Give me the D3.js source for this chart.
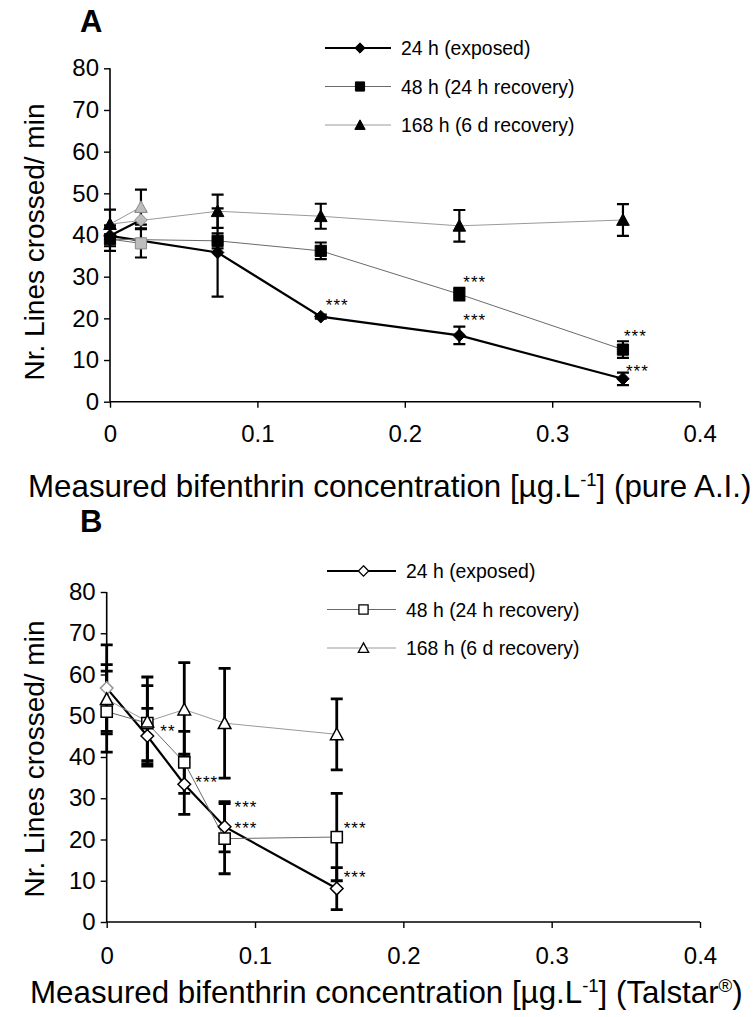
<!DOCTYPE html>
<html><head><meta charset="utf-8">
<script src="https://cdn.jsdelivr.net/npm/d3@7"></script>
<style>
body{margin:0;background:#fff}
svg{display:block;font-family:"Liberation Sans",Arial,Helvetica,sans-serif}
</style>
</head><body>
<svg id="chart" width="754" height="1017"></svg>
<script>
// ---- Panel A: pure active ingredient ----
const concA = [0, 0.073, 0.143, 0.237, 0.348];
const a24 = [39.8, 35.8, 20.4, 15.9, 5.5];
const a24err = [2.5, 10.6, 0.5, 2.1, 1.5];
const a48 = [39.0, 38.6, 36.2, 25.8, 12.5];
const a48err = [2.8, 1.8, 2.0, 1.5, 2.0];
const a168 = [42.6, 45.7, 44.5, 42.2, 43.6];
const a168err = [3.5, 4.0, 3.0, 3.8, 3.8];
const sigA24 = ["", "", "***", "***", "***"];
const sigA48 = ["", "", "", "***", "***"];
const sigA168 = ["", "", "", "", ""];
// solvent control group (grey markers)
const ctrlConcA = 0.021;
const ctrlA = [43.6, 38.0, 46.7];
const ctrlErrA = [2.0, 3.4, 4.2];

// ---- Panel B: Talstar formulation ----
const concB = [0, 0.0274, 0.0523, 0.0795, 0.1551];
const b24 = [56.7, 45.1, 33.4, 23.1, 8.1];
const b24err = [10.5, 6.7, 7.3, 6.1, 5.1];
const b48 = [51.0, 48.2, 38.7, 20.2, 20.6];
const b48err = [9.8, 9.1, 7.5, 8.5, 10.6];
const b168 = [54.0, 48.6, 51.5, 48.2, 45.5];
const b168err = [8.4, 10.8, 11.4, 13.3, 8.6];
const sigB24 = ["", "**", "***", "***", "***"];
const sigB48 = ["", "", "", "***", "***"];
const sigB168 = ["", "", "", "", ""];

const seriesNames = ["24 h (exposed)", "48 h (24 h recovery)", "168 h (6 d recovery)"];
const xTicks = [0, 0.1, 0.2, 0.3, 0.4];
const yTicks = [0, 10, 20, 30, 40, 50, 60, 70, 80];
const yLabel = "Nr. Lines crossed/ min";

const svg = d3.select("#chart");

// marker shapes
function markerPath(shape, r) {
  if (shape === "diamond") return `M0,${-r}L${r},0L0,${r}L${-r},0Z`;
  if (shape === "square") return `M${-r},${-r}H${r}V${r}H${-r}Z`;
  return `M0,${-r}L${r},${r * 0.85}L${-r},${r * 0.85}Z`;
}

const lineStyles = [
  {width: 2.2, color: "#000"},
  {width: 1, color: "#6a6a6a"},
  {width: 1, color: "#9a9a9a"}
];
const shapes = ["diamond", "square", "triangle"];
const sizes = {diamond: 6.3, square: 5.6, triangle: 6.3};

function drawPanel(cfg) {
  const g = svg.append("g");
  const x = d3.scaleLinear().domain([0, 0.4]).range([cfg.x0, cfg.x1]);
  const y = d3.scaleLinear().domain([0, 80]).range([cfg.y0, cfg.y1]);

  // axes
  const ax = g.append("g").attr("transform", `translate(0,${cfg.y0})`)
    .call(d3.axisBottom(x).tickValues(xTicks).tickSize(6).tickPadding(cfg.xTickPad)
      .tickFormat(d => d === 0 ? "0" : d3.format(".1f")(d)));
  const ay = g.append("g").attr("transform", `translate(${cfg.x0},0)`)
    .call(d3.axisLeft(y).tickValues(yTicks).tickSize(6).tickPadding(5));
  [ax, ay].forEach(a => {
    a.select(".domain").attr("stroke", "#000").attr("stroke-width", 1.6);
    a.selectAll(".tick line").attr("stroke", "#000").attr("stroke-width", 1.4);
    a.selectAll("text").attr("fill", "#000").attr("font-size", 24)
      .attr("font-family", "Liberation Sans, Arial, sans-serif");
  });
  ay.select(".domain").attr("d", `M0,${cfg.y0}V${cfg.y1}`);
  ax.select(".domain").attr("d", `M${cfg.x0},0H${cfg.x1}`);

  // y axis title
  g.append("text")
    .attr("transform", `translate(${cfg.yTitleX},${(cfg.y0 + cfg.y1) / 2 + cfg.yTitleShift}) rotate(-90)`)
    .attr("text-anchor", "middle").attr("font-size", 28).attr("fill", "#000")
    .text(yLabel);

  // panel letter
  g.append("text").attr("x", cfg.letterX).attr("y", cfg.letterY)
    .attr("font-size", 31).attr("font-weight", "bold").text(cfg.letter);

  // x axis title with superscripts
  const t = g.append("text").attr("x", cfg.xTitleX).attr("y", cfg.xTitleY)
    .attr("font-size", 31.3).attr("fill", "#000");
  t.append("tspan").text("Measured bifenthrin concentration [µg.L");
  t.append("tspan").attr("dy", -11).attr("font-size", 18.5).text("-1");
  t.append("tspan").attr("dy", 11).text("] (" + cfg.titleTail);
  if (cfg.registered) {
    t.append("tspan").attr("dy", -11).attr("font-size", 18.5).text("®");
    t.append("tspan").attr("dy", 11).text(")");
  } else {
    t.append("tspan").text(")");
  }

  const line = d3.line().x(d => x(d[0])).y(d => y(d[1]));

  // connecting lines
  cfg.series.forEach((s, k) => {
    const st = lineStyles[k];
    const pts = cfg.conc.map((c, i) => [c, s.values[i]]);
    g.append("path").attr("d", line(pts)).attr("fill", "none")
      .attr("stroke", st.color).attr("stroke-width", st.width);
    if (cfg.ctrl) {
      g.append("path").attr("d", line([[cfg.conc[0], s.values[0]], [cfg.ctrlConc, cfg.ctrl[k]]]))
        .attr("fill", "none").attr("stroke", st.color).attr("stroke-width", st.width);
    }
  });

  // error bars
  const capW = 6;
  function errBar(cx, v, e, w) {
    const px = x(cx), top = y(v + e), bot = y(v - e);
    g.append("path")
      .attr("d", `M${px},${top}V${bot}M${px - capW},${top}H${px + capW}M${px - capW},${bot}H${px + capW}`)
      .attr("stroke", "#000").attr("stroke-width", w).attr("fill", "none");
  }
  cfg.series.forEach((s, k) => {
    cfg.conc.forEach((c, i) => errBar(c, s.values[i], s.errors[i], cfg.errW));
    if (cfg.ctrl) errBar(cfg.ctrlConc, cfg.ctrl[k], cfg.ctrlErr[k], cfg.errW);
  });

  // markers
  cfg.series.forEach((s, k) => {
    const shape = shapes[k];
    cfg.conc.forEach((c, i) => {
      g.append("path").attr("d", markerPath(shape, sizes[shape]))
        .attr("transform", `translate(${x(c)},${y(s.values[i])})`)
        .attr("fill", cfg.open ? "#fff" : "#000")
        .attr("stroke", cfg.pointStroke(k, i)).attr("stroke-width", cfg.open ? 1.5 : 1);
    });
    if (cfg.ctrl) {
      g.append("path").attr("d", markerPath(shape, sizes[shape]))
        .attr("transform", `translate(${x(cfg.ctrlConc)},${y(cfg.ctrl[k])})`)
        .attr("fill", "#bdbdbd").attr("stroke", "#8a8a8a").attr("stroke-width", 1);
    }
  });

  // significance labels
  cfg.series.forEach((s, k) => {
    s.sig.forEach((lab, i) => {
      if (!lab) return;
      const off = cfg.sigOffset[k][i];
      g.append("text")
        .attr("x", x(cfg.conc[i]) + off[0])
        .attr("y", y(s.values[i]) + off[1] + 10)
        .attr("font-size", 17).attr("letter-spacing", 1).attr("fill", "#000").text(lab);
    });
  });

  // legend
  cfg.series.forEach((s, k) => {
    const st = lineStyles[k];
    const ly = cfg.legY + k * 38.5;
    g.append("path").attr("d", `M${cfg.legX0},${ly}H${cfg.legX1}`)
      .attr("stroke", st.color).attr("stroke-width", st.width);
    const shape = shapes[k];
    g.append("path").attr("d", markerPath(shape, sizes[shape] * 0.82))
      .attr("transform", `translate(${(cfg.legX0 + cfg.legX1) / 2 + 2},${ly})`)
      .attr("fill", cfg.open ? "#fff" : "#000").attr("stroke", "#000")
      .attr("stroke-width", cfg.open ? 1.3 : 1);
    g.append("text").attr("x", cfg.legX1 + 10).attr("y", ly + 7)
      .attr("font-size", 19.4).attr("fill", "#000").text(seriesNames[k]);
  });
}

drawPanel({
  letter: "A", letterX: 80, letterY: 32,
  x0: 110, x1: 699.6, y0: 401.7, y1: 68.3,
  yTitleX: 44, yTitleShift: 7, xTickPad: 17,
  xTitleX: 28, xTitleY: 497, titleTail: "pure A.I.", registered: false,
  conc: concA, ctrlConc: ctrlConcA, ctrl: ctrlA, ctrlErr: ctrlErrA,
  open: false, errW: 2.2,
  pointStroke: () => "#000",
  series: [
    {values: a24, errors: a24err, sig: sigA24},
    {values: a48, errors: a48err, sig: sigA48},
    {values: a168, errors: a168err, sig: sigA168}
  ],
  sigOffset: [
    [null, null, [5, -16], [4, -19], [3, -12]],
    [null, null, null, [4, -16], [1, -18]],
    [null, null, null, null, null]
  ],
  legX0: 325, legX1: 391, legY: 48
});

drawPanel({
  letter: "B", letterX: 80, letterY: 532,
  x0: 106.7, x1: 700, y0: 922, y1: 592,
  yTitleX: 44, yTitleShift: 2, xTickPad: 19,
  xTitleX: 30, xTitleY: 1003, titleTail: "Talstar", registered: true,
  conc: concB, ctrl: null,
  open: true, errW: 2.8,
  pointStroke: (k, i) => (k === 0 && i === 0) ? "#999" : "#000",
  series: [
    {values: b24, errors: b24err, sig: sigB24},
    {values: b48, errors: b48err, sig: sigB48},
    {values: b168, errors: b168err, sig: sigB168}
  ],
  sigOffset: [
    [null, [13, -9], [11, -6], [10, -3], [7, -16]],
    [null, null, null, [10, -36], [7, -13]],
    [null, null, null, null, null]
  ],
  legX0: 327, legX1: 396, legY: 571
});
</script>
</body></html>
